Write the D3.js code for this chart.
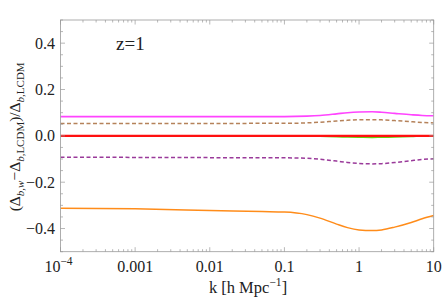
<!DOCTYPE html>
<html>
<head>
<meta charset="utf-8">
<script src="https://cdn.jsdelivr.net/npm/d3@7"></script>
<style>
  body { margin: 0; background: #fff; }
  text { font-family: "Liberation Serif", "DejaVu Serif", serif; fill: #222; }
</style>
</head>
<body>
<script>
var kValues = [1e-4, 1e-3, 0.01, 0.05, 0.1, 0.2, 0.3, 0.5, 0.7, 1, 1.5, 2, 3, 5, 7, 10];
var magentaVals = [0.083, 0.083, 0.083, 0.083, 0.083, 0.085, 0.088, 0.095, 0.100, 0.103, 0.104, 0.102, 0.097, 0.091, 0.088, 0.087];
var brownVals = [0.053, 0.053, 0.053, 0.054, 0.054, 0.056, 0.059, 0.064, 0.067, 0.070, 0.070, 0.069, 0.066, 0.061, 0.058, 0.056];
var greenVals = [0, 0, 0, 0, 0, -0.001, -0.002, -0.004, -0.005, -0.006, -0.007, -0.006, -0.005, -0.003, -0.001, 0];
var redVals = [0, 0, 0, 0, 0, 0, 0, 0, 0, 0, 0, 0, 0, 0, 0, 0];
var purpleVals = [-0.092, -0.093, -0.094, -0.095, -0.095, -0.097, -0.101, -0.109, -0.115, -0.119, -0.121, -0.120, -0.115, -0.107, -0.102, -0.099];
var orangeVals = [-0.312, -0.315, -0.322, -0.327, -0.329, -0.340, -0.355, -0.381, -0.396, -0.406, -0.409, -0.406, -0.394, -0.374, -0.358, -0.344];

var xTickVals = [1e-4, 1e-3, 0.01, 0.1, 1, 10];
var xTickLabels = ["10", "0.001", "0.01", "0.1", "1", "10"];
var yTickVals = [-0.4, -0.2, 0.0, 0.2, 0.4];
var yTickLabels = ["\u22120.4", "\u22120.2", "0.0", "0.2", "0.4"];

var series = [
  { vals: greenVals, color: "#66cc11", width: 1.5, dash: null },
  { vals: magentaVals, color: "#ff44ff", width: 1.6, dash: null },
  { vals: brownVals, color: "#b5825a", width: 1.5, dash: "4,2.5" },
  { vals: redVals, color: "#ff1010", width: 2.4, dash: null },
  { vals: purpleVals, color: "#9a3a9a", width: 1.5, dash: "4,2.5" },
  { vals: orangeVals, color: "#ff8c1a", width: 1.5, dash: null }
];

var W = 443, H = 300;
var plotL = 60.5, plotR = 433.7, plotT = 20, plotB = 251.7;

var svg = d3.select("body").append("svg").attr("width", W).attr("height", H);

var x = d3.scaleLog().domain([1e-4, 10]).range([plotL, plotR]);
var y = d3.scaleLinear().domain([-0.5, 0.5]).range([plotB, plotT]);

// curves
var line = d3.line()
    .curve(d3.curveMonotoneX)
    .x(function (d) { return x(d.k); })
    .y(function (d) { return y(d.v); });

svg.append("clipPath").attr("id", "clip")
    .append("rect").attr("x", plotL).attr("y", plotT).attr("width", plotR - plotL).attr("height", plotB - plotT);

var g = svg.append("g").attr("clip-path", "url(#clip)");
series.forEach(function (s) {
  var pts = kValues.map(function (k, i) { return { k: k, v: s.vals[i] }; });
  g.append("path")
      .attr("d", line(pts))
      .attr("fill", "none")
      .attr("stroke", s.color)
      .attr("stroke-width", s.width)
      .attr("stroke-dasharray", s.dash);
});

// frame
svg.append("rect")
    .attr("x", plotL).attr("y", plotT).attr("width", plotR - plotL).attr("height", plotB - plotT)
    .attr("fill", "none").attr("stroke", "#9a9a9a").attr("stroke-width", 0.8);

// x ticks (major + minor) on bottom and top
var minorX = [];
for (var e = -4; e < 1; e++) {
  for (var m = 2; m < 10; m++) minorX.push(m * Math.pow(10, e));
}
var tickColor = "#9a9a9a";
function xTicks(vals, len) {
  vals.forEach(function (v) {
    var px = x(v);
    svg.append("line").attr("x1", px).attr("x2", px).attr("y1", plotB).attr("y2", plotB - len)
        .attr("stroke", tickColor).attr("stroke-width", 0.7);
    svg.append("line").attr("x1", px).attr("x2", px).attr("y1", plotT).attr("y2", plotT + len)
        .attr("stroke", tickColor).attr("stroke-width", 0.7);
  });
}
xTicks(xTickVals, 4.5);
xTicks(minorX, 2.5);

// y ticks, major every 0.2, minor every 0.05
var minorY = d3.range(-0.5, 0.5001, 0.05).filter(function (v) {
  return !yTickVals.some(function (t) { return Math.abs(t - v) < 1e-6; });
});
function yTicks(vals, len) {
  vals.forEach(function (v) {
    var py = y(v);
    svg.append("line").attr("x1", plotL).attr("x2", plotL + len).attr("y1", py).attr("y2", py)
        .attr("stroke", tickColor).attr("stroke-width", 0.7);
    svg.append("line").attr("x1", plotR).attr("x2", plotR - len).attr("y1", py).attr("y2", py)
        .attr("stroke", tickColor).attr("stroke-width", 0.7);
  });
}
yTicks(yTickVals, 4.5);
yTicks(minorY, 2.5);

// x tick labels
xTickVals.forEach(function (v, i) {
  var t = svg.append("text")
      .attr("x", i === 0 ? x(v) - 2 : x(v)).attr("y", 272)
      .attr("text-anchor", "middle")
      .style("font-size", "16px")
      .text(xTickLabels[i]);
  if (i === 0) {
    t.append("tspan").attr("dy", -7).style("font-size", "11.5px").text("\u22124");
  }
});

// y tick labels
yTickVals.forEach(function (v, i) {
  svg.append("text")
      .attr("x", 55).attr("y", y(v) + 5.5)
      .attr("text-anchor", "end")
      .style("font-size", "16px")
      .text(yTickLabels[i]);
});

// x title
var xt = svg.append("text").attr("x", 248).attr("y", 293).attr("text-anchor", "middle")
    .style("font-size", "16.5px");
xt.append("tspan").text("k [h Mpc");
xt.append("tspan").attr("dy", -7).style("font-size", "11.5px").text("\u22121");
xt.append("tspan").attr("dy", 7).text("]");

// y title
var yt = svg.append("text")
    .attr("transform", "translate(20," + (y(0) + 1) + ") rotate(-90)")
    .attr("text-anchor", "middle")
    .style("font-size", "15.5px");
function sub(parts) {
  parts.forEach(function (p, i) {
    var ts = yt.append("tspan").style("font-size", "11px").text(p.t);
    if (i === 0) ts.attr("dy", 3.5);
    if (p.it) ts.style("font-style", "italic");
  });
}
yt.append("tspan").text("(\u0394");
sub([{ t: "b,w", it: true }]);
yt.append("tspan").attr("dy", -3.5).text("\u2212\u0394");
sub([{ t: "b", it: true }, { t: ",LCDM" }]);
yt.append("tspan").attr("dy", -3.5).text(")/\u0394");
sub([{ t: "b", it: true }, { t: ",LCDM" }]);

// panel label
svg.append("text").attr("x", 116).attr("y", 50).attr("text-anchor", "start")
    .style("font-size", "19px").text("z=1");
</script>
</body>
</html>
